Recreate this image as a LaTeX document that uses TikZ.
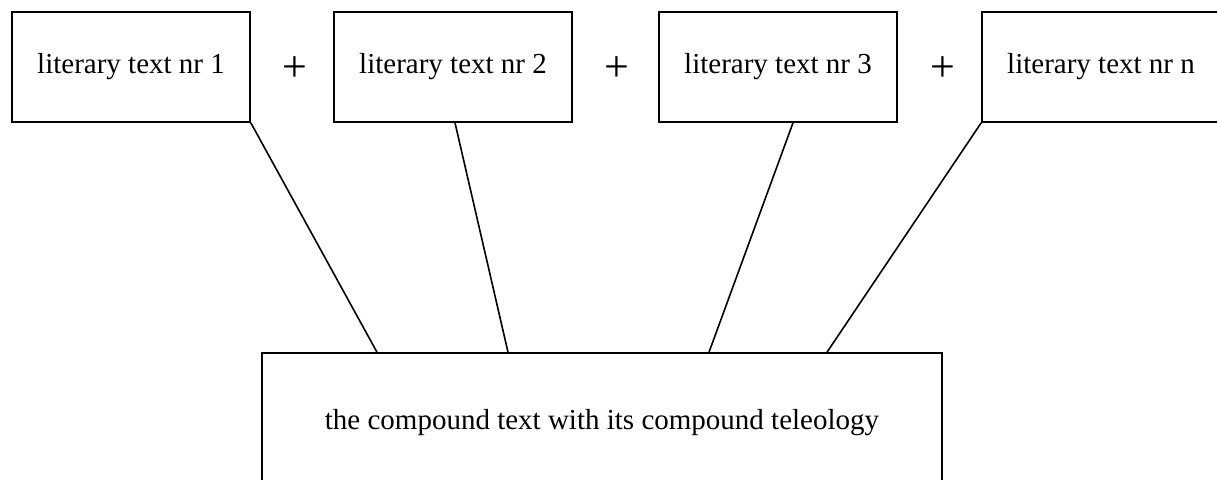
\documentclass[tikz,border=0pt]{standalone}
\usepackage{fontspec}
\setmainfont{Liberation Serif}
\usepackage{tikz}
\usetikzlibrary{positioning}

\tikzset{
  litbox/.style={draw, line width=1.6pt, minimum width=238pt, minimum height=110pt, inner sep=0pt, font=\fontsize{29}{34}\selectfont},
  plussign/.style={font=\fontsize{44}{50}\selectfont},
  link/.style={line width=1.6pt}
}

\begin{document}
\begin{tikzpicture}[x=1pt, y=-1pt]
  \useasboundingbox (0,0) rectangle (1217,479);
  \node[litbox] (lit1) at (131,67) {literary text nr 1};
  \node[litbox] (lit2) at (453,67) {literary text nr 2};
  \node[litbox] (lit3) at (778,67) {literary text nr 3};
  \node[litbox] (litn) at (1101,67) {literary text nr n};
  \node[plussign] (plus1) at (295,69) {+};
  \node[plussign] (plus2) at (617,69) {+};
  \node[plussign] (plus3) at (943,69) {+};
  \node[litbox, minimum width=680pt, minimum height=140pt] (compound) at (602,423) {the compound text with its compound teleology};
  \draw[link] (lit1.south east) -- ([xshift=-225pt]compound.north);
  \draw[link] ([xshift=2pt]lit2.south) -- ([xshift=-94pt]compound.north);
  \draw[link] ([xshift=15pt]lit3.south) -- ([xshift=107pt]compound.north);
  \draw[link] (litn.south west) -- ([xshift=225pt]compound.north);
\end{tikzpicture}
\end{document}
